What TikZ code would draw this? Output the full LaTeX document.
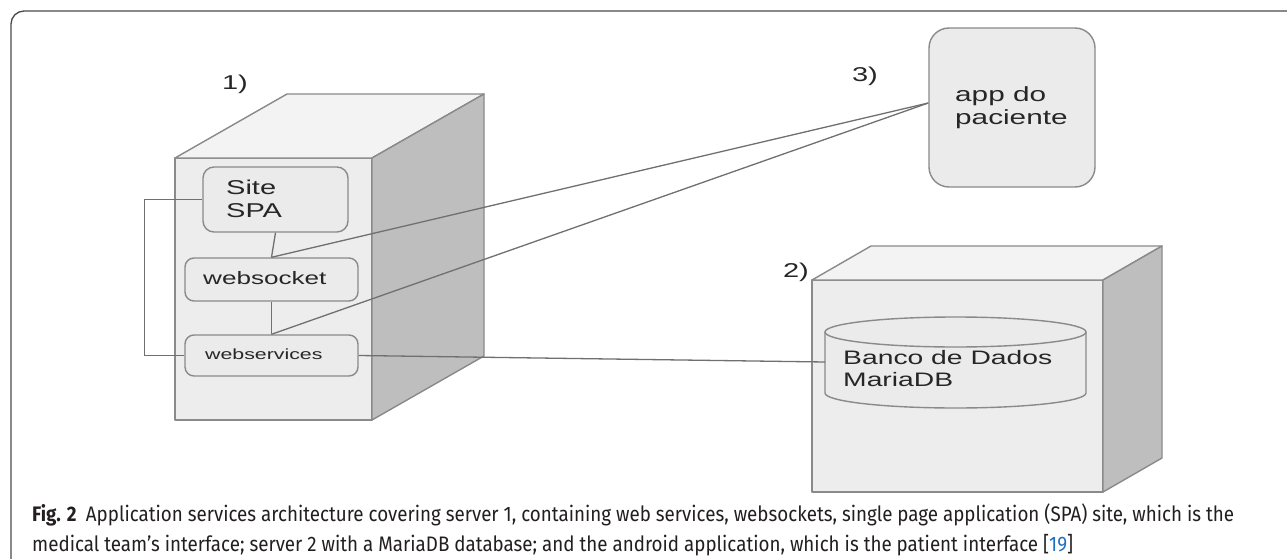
\documentclass[tikz,border=0pt]{standalone}
\usepackage{fontspec}
\usepackage{graphicx}
\setmainfont{Liberation Sans}
\newfontfamily\capfont{Fira Sans}
\usetikzlibrary{calc}

\definecolor{framecol}{HTML}{4A4A4A}
\definecolor{edgegray}{HTML}{8A8A8A}
\definecolor{linegray}{HTML}{707070}
\definecolor{frontfill}{HTML}{EDEDED}
\definecolor{topfill}{HTML}{F3F3F3}
\definecolor{sidefill}{HTML}{BEBEBE}
\definecolor{boxfill}{HTML}{EBEBEB}
\definecolor{textgray}{HTML}{262626}
\definecolor{captext}{HTML}{231F20}
\definecolor{capblue}{HTML}{1F6FC0}

% widened multi-line label text
\newcommand\dlines[3]{\scalebox{1.45}[1]{\fontsize{#1}{#2}\selectfont\begin{tabular}{@{}l@{}}#3\end{tabular}}}
\newsavebox\capboxA
\newsavebox\capboxB

\begin{document}
\sbox\capboxA{\capfont\fontsize{21}{29}\selectfont\color{captext}\textbf{Fig. 2}\hspace{0.5em}Application services architecture covering server 1, containing web services, websockets, single page application (SPA) site, which is the}%
\sbox\capboxB{\capfont\fontsize{21}{29}\selectfont\color{captext}medical team’s interface; server 2 with a MariaDB database; and the android application, which is the patient interface [\textcolor{capblue}{19}]}%
\begin{tikzpicture}[x=1pt,y=-1pt,
  face/.style={draw=edgegray, line width=1.4pt, line join=round},
  box/.style={draw=edgegray, fill=boxfill, line width=1.4pt, rounded corners=11pt, inner sep=0pt},
  link/.style={draw=linegray, line width=1.3pt},
  txt/.style={inner sep=0pt, anchor=west, text=textgray}]

\useasboundingbox (0,0) rectangle (1287,559);
\fill[white] (0,0) rectangle (1287,559);

% outer frame (top and left edges)
\draw[framecol, line width=1.3pt, rounded corners=13pt] (11,562) -- (11,11) -- (1290,11);

% server 1
\filldraw[face, fill=frontfill] (175,158) rectangle (372,420);
\filldraw[face, fill=topfill] (175,158) -- (287,94) -- (484,94) -- (372,158) -- cycle;
\filldraw[face, fill=sidefill] (372,158) -- (484,94) -- (484,356) -- (372,420) -- cycle;
\node[txt, anchor=center] (lab1) at (235,85) {\dlines{20}{22}{1)}};

% server 2
\filldraw[face, fill=frontfill] (812,280) rectangle (1103,492);
\filldraw[face, fill=topfill] (812,280) -- (871,246) -- (1162,246) -- (1103,280) -- cycle;
\filldraw[face, fill=sidefill] (1103,280) -- (1162,246) -- (1162,458) -- (1103,492) -- cycle;
\node[txt, anchor=center] (lab2) at (796,273) {\dlines{20}{22}{2)}};

% database cylinder
\filldraw[face, fill=boxfill] (825,332) -- (825,393)
  arc[start angle=180, end angle=0, x radius=130.5, y radius=15] -- (1086,332) -- cycle;
\filldraw[face, fill=boxfill] (955.5,332) ellipse [x radius=130.5, y radius=15];
\coordinate (dbL) at (825,362);
\node[txt] (dbT) at (843,371) {\dlines{19.5}{22}{Banco de Dados\\MariaDB}};

% components of server 1
\node[box, minimum width=145pt, minimum height=65pt] (site) at (275.5,199.5) {};
\node[txt] (siteT) at (226,201) {\dlines{20}{23}{Site\\SPA}};
\node[box, rounded corners=9pt, minimum width=173pt, minimum height=43pt] (websocket) at (271.5,279.5) {};
\node[txt] (websocketT) at (203,280) {\dlines{18}{20}{websocket}};
\node[box, rounded corners=9pt, minimum width=173pt, minimum height=41pt] (webservices) at (271.5,355.5) {};
\node[txt] (webservicesT) at (205,356) {\dlines{14.7}{17}{webservices}};

% patient app
\node[box, rounded corners=20pt, minimum width=166pt, minimum height=159pt] (app) at (1012,107.5) {};
\node[txt] (appT) at (955,108) {\dlines{20.5}{23}{app do\\paciente}};
\node[txt, anchor=center] (lab3) at (865,77) {\dlines{20}{22}{3)}};

% connectors
\coordinate (appin) at ($(app.west)+(0,-4.5)$);
\draw[link] (site.south) -- (websocket.north);
\draw[link] (websocket.south) -- (webservices.north);
\draw[link] (websocket.north) -- (appin);
\draw[link] (webservices.north) -- (appin);
\draw[link] (site.west) -- ++(-58,0) |- (webservices.west);
\draw[link] (webservices.east) -- (dbL);

% caption
\pgfmathsetmacro\capscale{1202/\wd\capboxA}
\node[inner sep=0pt, anchor=base west] (cap1) at (32,521) {\scalebox{\capscale}[1]{\usebox\capboxA}};
\node[inner sep=0pt, anchor=base west] (cap2) at (32,551) {\scalebox{\capscale}[1]{\usebox\capboxB}};
\end{tikzpicture}
\end{document}
